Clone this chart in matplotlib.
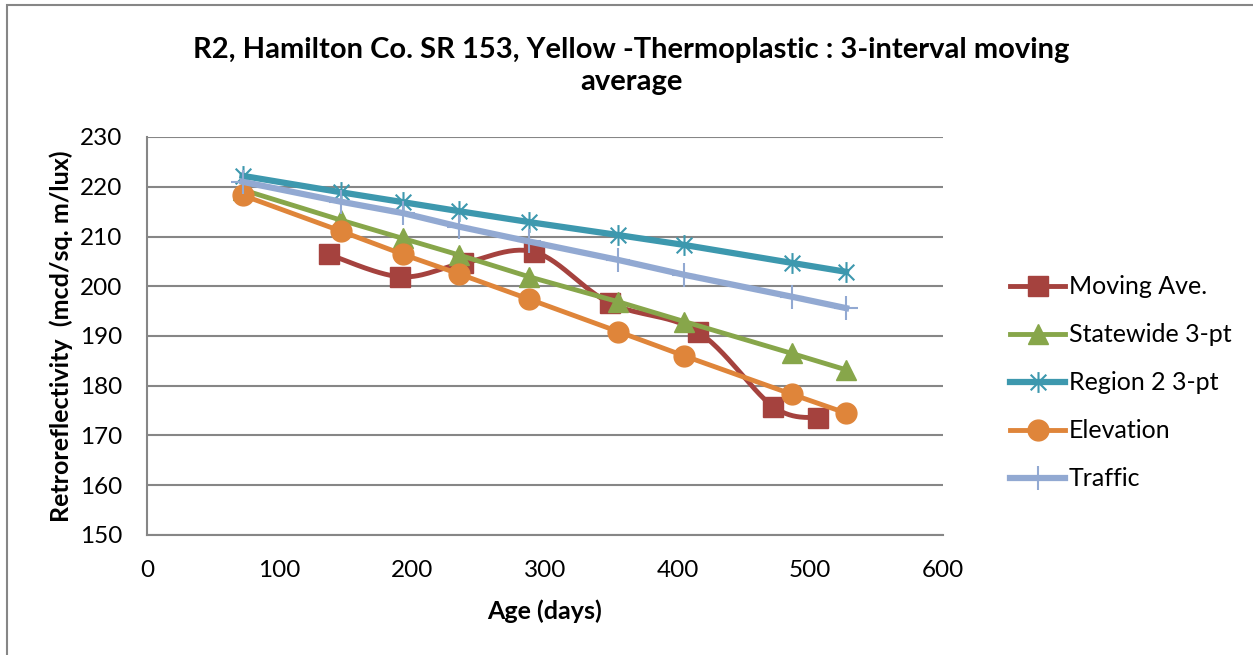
import numpy as np
import matplotlib.pyplot as plt
from matplotlib.path import Path
from matplotlib.patches import Rectangle

plt.rcParams['font.family'] = ['Lato', 'DejaVu Sans']

# Moving average points (own x positions)
ma_age = [137, 191, 238, 292, 349, 415, 472, 506]
ma_retro = [206.4, 201.9, 204.6, 206.9, 196.6, 190.9, 175.8, 173.5]

# Model predictions share the same ages
age = [72, 146, 193, 235, 288, 355, 405, 486, 527]
statewide = [219.4, 213.3, 209.6, 206.3, 201.9, 196.9, 192.9, 186.5, 183.2]
region2 = [222.2, 218.9, 216.9, 215.1, 212.9, 210.3, 208.3, 204.7, 202.9]
elevation = [218.3, 211.1, 206.4, 202.5, 197.4, 190.9, 186.0, 178.3, 174.5]
traffic = [221.0, 217.0, 214.7, 212.0, 209.0, 205.3, 202.3, 197.9, 195.6]

title = 'R2, Hamilton Co. SR 153, Yellow -Thermoplastic : 3-interval moving\naverage'

c_ma = '#A5423E'
c_state = '#87A64A'
c_reg = '#3D98AE'
c_elev = '#DF853A'
c_traf = '#92A9D2'


def smooth(xs, ys, n=30):
    # bezier smoothing through every point, like a spreadsheet "smoothed line"
    p = np.column_stack([xs, ys]).astype(float)
    pts = np.vstack([p[0], p, p[-1]])
    out = []
    t = np.linspace(0, 1, n)[:, None]
    for i in range(1, len(pts) - 2):
        p0, p1, p2, p3 = pts[i - 1], pts[i], pts[i + 1], pts[i + 2]
        c1 = p1 + (p2 - p0) / 6
        c2 = p2 - (p3 - p1) / 6
        seg = ((1 - t) ** 3) * p1 + 3 * ((1 - t) ** 2) * t * c1 + 3 * (1 - t) * t ** 2 * c2 + t ** 3 * p2
        out.append(seg if i == 1 else seg[1:])
    s = np.vstack(out)
    return s[:, 0], s[:, 1]


# asterisk: vertical stroke plus an X
star = Path([(0, -1), (0, 1), (-0.75, -0.75), (0.75, 0.75), (-0.75, 0.75), (0.75, -0.75)],
            [Path.MOVETO, Path.LINETO, Path.MOVETO, Path.LINETO, Path.MOVETO, Path.LINETO])

fig = plt.figure(figsize=(12.53, 6.55), dpi=100)
ax = fig.add_axes([147 / 1253, 1 - 535 / 655, 796 / 1253, 398 / 655])

# outer chart frame
fig.patches.append(Rectangle((7 / 1253, -0.1), 1.2, 1.1 - 5 / 655, transform=fig.transFigure,
                             fill=False, edgecolor='#868686', linewidth=1.5))

sx, sy = smooth(ma_age, ma_retro)
ax.plot(sx, sy, color=c_ma, lw=3.5, solid_capstyle='round', zorder=3)
ax.plot(ma_age, ma_retro, ls='none', marker='s', ms=14, color=c_ma, zorder=3)
ax.plot([], [], color=c_ma, lw=3.5, marker='s', ms=14, label='Moving Ave.')

ax.plot(age, statewide, color=c_state, lw=3.5, marker='^', ms=15, label='Statewide 3-pt', zorder=4)
ax.plot(age, region2, color=c_reg, lw=4.5, marker=star, ms=15, mew=1.5, mec=c_reg, label='Region 2 3-pt', zorder=5)
ax.plot(age, elevation, color=c_elev, lw=3.5, marker='o', ms=15, label='Elevation', zorder=6)
ax.plot(age, traffic, color=c_traf, lw=4.5, marker='+', ms=17, mew=1.5, label='Traffic', zorder=7)

ax.set_xlim(0, 600)
ax.set_ylim(150, 230)
ax.set_xticks(np.arange(0, 601, 100))
ax.set_yticks(np.arange(150, 231, 10))
ax.grid(axis='y', color='#868686', lw=1.5)
ax.set_axisbelow(True)
for s in ['top', 'right']:
    ax.spines[s].set_visible(False)
for s in ['left', 'bottom']:
    ax.spines[s].set_color('#868686')
    ax.spines[s].set_linewidth(1.5)
ax.tick_params(length=0, labelsize=17.5)
ax.tick_params(axis='x', pad=18)
ax.tick_params(axis='y', pad=18)

ax.set_xlabel('Age (days)', fontsize=18, fontweight='bold', labelpad=13)
ax.set_ylabel('Retroreflectivity  (mcd/sq. m/lux)', fontsize=18, fontweight='bold', labelpad=5)
fig.text(631 / 1253, 1 - 66 / 655, title, ha='center', va='center', fontsize=21,
         fontweight='bold', linespacing=1.3)

ax.legend(loc='center left', bbox_to_anchor=(1.072, 0.382), frameon=False, fontsize=18,
          handlelength=2.2, labelspacing=1.0, handletextpad=0.15, borderaxespad=0)

fig.savefig('out.png', dpi=100)
